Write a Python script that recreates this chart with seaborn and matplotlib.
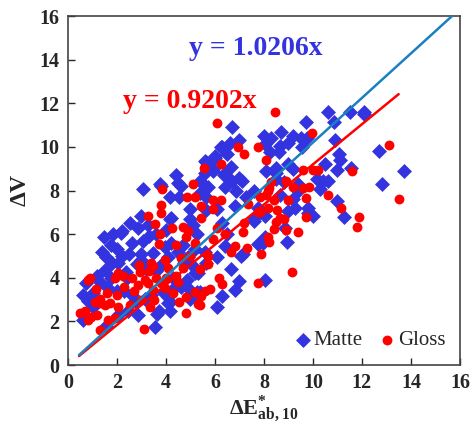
import numpy as np
import pandas as pd
import matplotlib
matplotlib.use("Agg")
import matplotlib.pyplot as plt
import seaborn as sns

# slopes of the two fitted lines (through origin)
matte_slope = 1.0206
gloss_slope = 0.9202

matte_x = [12.7, 13.7, 12.8, 12.1, 12.1, 11.5, 10.85, 10.6, 10.9, 11.05, 11.1, 11.0, 11.55, 11.0, 11.25, 10.6,
           9.7, 8.7, 8.0, 8.3, 9.2, 9.0, 9.5, 9.75, 8.6, 9.55, 9.0, 10.5, 8.1, 8.5, 9.2, 8.8, 10.15, 10.4, 9.4,
           10.3, 9.2, 9.0, 9.8, 9.8, 7.6, 8.85, 8.05,
           8.95, 7.95, 7.05, 6.4, 8.05, 6.65, 7.0, 6.8, 6.3, 6.1, 5.4,
           6.7, 8.05, 8.65, 8.25, 6.25, 6.6, 5.6, 6.0, 6.5, 5.9, 6.65, 6.35, 7.0, 8.5, 5.6, 5.4, 5.7, 6.4, 6.85,
           7.6, 8.5, 9.4, 8.65, 5.65, 6.1, 6.8, 7.25, 7.75, 9.25, 10.0, 8.05,
           3.05, 3.8, 4.4, 4.6, 4.15, 4.55, 3.0, 5.0, 4.2,
           7.0, 5.65, 5.9, 6.4, 7.1, 6.7, 4.5, 3.75, 5.5, 5.4, 2.85, 2.2, 1.45, 1.85, 4.15, 5.0, 5.1, 5.25, 5.65,
           6.3, 6.5, 7.6, 6.3, 6.0,
           1.75, 2.15, 1.55, 2.05, 2.6, 3.05, 2.55, 3.25, 3.0, 3.45, 3.95, 2.8, 2.35, 4.1, 4.9, 5.1, 4.75, 4.3,
           4.9, 5.0, 0.75, 0.6, 1.0, 1.3, 1.75, 1.5, 0.6, 1.55, 2.05, 2.45, 2.75, 3.15, 3.55, 3.7, 4.1, 4.1, 0.8,
           1.0,
           7.15, 7.75, 5.25, 5.65, 6.1, 5.3, 4.85, 4.15, 4.15, 2.85, 3.65,
           2.3, 2.6, 3.4, 3.0, 3.6, 2.2, 1.8, 1.4, 2.0, 2.5, 3.2, 3.8, 4.3, 4.5, 4.2, 3.6, 3.3, 4.0, 1.2, 1.6,
           2.0, 2.4, 3.9, 4.6, 5.2, 5.6, 5.2, 4.7]
matte_y = [9.8, 8.9, 8.3, 11.6, 11.5, 11.6, 11.15, 11.6, 10.3, 9.7, 9.4, 8.95, 9.05, 7.5, 6.8, 8.45,
           11.15, 10.7, 10.5, 10.4, 10.5, 10.2, 10.4, 10.4, 9.75, 10.0, 9.2, 9.2, 8.9, 8.8, 9.0, 8.4, 8.55, 8.45,
           8.0, 8.05, 7.6, 7.05, 7.2, 6.95, 6.6, 6.3, 5.85,
           5.65, 5.6, 5.0, 5.45, 3.9, 4.4, 3.85, 3.45, 3.15, 2.65, 3.35,
           10.9, 10.15, 10.05, 9.75, 10.0, 10.2, 9.35, 9.5, 9.7, 9.0, 9.1, 8.7, 8.6, 9.05, 8.8, 8.45, 8.15, 8.15,
           8.0, 8.0, 8.55, 8.3, 7.8, 7.7, 7.15, 7.3, 7.7, 7.2, 7.2, 6.85, 6.85,
           8.05, 8.2, 8.7, 8.2, 7.7, 7.7, 6.85, 7.15, 6.75,
           10.3, 9.3, 8.9, 8.8, 8.45, 8.45, 8.35, 8.3, 8.3, 7.9, 6.3, 6.15, 5.85, 6.0, 6.7, 6.7, 6.4, 6.0, 7.1,
           6.5, 6.0, 6.75, 10.0, 9.6,
           5.5, 6.05, 4.95, 4.7, 5.6, 5.7, 6.5, 6.4, 5.1, 5.15, 5.4, 4.65, 4.25, 4.95, 4.95, 4.55, 4.7, 3.5,
           3.55, 3.05, 3.75, 3.2, 3.3, 3.8, 4.0, 4.35, 2.05, 1.8, 2.3, 2.5, 2.95, 3.05, 1.75, 2.5, 2.85, 3.1, 2.95,
           2.65,
           5.1, 5.55, 3.35, 4.7, 4.95, 4.2, 3.9, 2.9, 2.5, 2.3, 2.35,
           3.4, 3.2, 3.2, 4.8, 4.3, 5.0, 4.7, 5.2, 5.3, 5.1, 4.4, 4.6, 4.0, 5.2, 5.6, 6.0, 5.9, 6.2, 4.1, 3.6,
           3.4, 4.0, 3.3, 3.6, 4.2, 5.2, 5.3, 5.5]

gloss_x = [13.1, 13.5, 11.6, 10.6, 11.15, 11.9, 11.8,
           8.45, 9.95, 7.75, 8.1, 9.6, 10.0, 10.2, 8.3, 8.9, 8.2, 9.2, 9.85, 8.1, 7.85, 8.4, 9.0, 9.7, 7.75,
           8.15, 8.5, 8.8, 8.4, 8.9, 9.4, 8.15,
           8.2, 7.9, 7.3, 6.8, 6.65, 9.15, 7.75, 6.15, 6.3, 5.8, 5.6, 5.45, 5.4,
           6.1, 6.95, 7.2, 5.55, 6.25, 9.6, 8.15, 5.45, 5.9, 6.25, 5.9, 7.35, 7.85, 8.65, 9.7, 8.55,
           3.85, 5.1, 4.85, 5.2, 3.8, 3.8, 3.25,
           5.45, 3.55, 4.25, 4.7, 6.1, 7.2, 7.15,
           3.7, 4.4, 4.8, 4.9, 3.4, 3.45, 3.95, 4.1, 4.7, 4.4, 2.05, 1.9, 2.25, 2.6, 2.95, 3.15, 2.85, 3.25, 3.6,
           3.45, 3.8, 3.95, 4.3, 4.55, 4.8, 5.2, 0.8, 0.9, 1.15, 1.1, 1.3, 1.5, 1.7, 1.3, 0.5, 0.7, 0.8, 0.95,
           1.2, 1.3, 1.65, 1.9, 2.05, 2.55, 3.1, 3.35,
           3.75, 5.2, 5.9, 6.4, 5.7, 5.7, 5.3, 4.8,
           2.3, 2.7, 3.0, 3.5, 2.0, 1.6, 4.5, 4.0, 3.3, 2.9, 5.0, 5.4, 4.6]
gloss_y = [10.1, 7.6, 8.9, 7.8, 7.2, 6.8, 6.35,
           11.6, 10.65, 10.0, 9.4, 8.95, 8.95, 8.95, 8.4, 8.45, 8.1, 8.15, 8.15, 7.8, 7.7, 7.55, 7.55, 7.65, 7.0,
           7.2, 6.55, 6.7, 6.25, 6.2, 6.1, 5.85,
           5.65, 5.1, 5.35, 5.45, 5.2, 4.25, 3.75, 4.0, 3.7, 3.5, 3.4, 3.15, 2.75,
           11.1, 10.0, 9.7, 9.05, 9.2, 8.1, 8.0, 7.3, 7.55, 7.55, 7.15, 7.4, 7.0, 6.75, 6.8, 7.1,
           8.05, 8.3, 7.7, 7.7, 7.35, 6.95, 6.85,
           6.75, 6.45, 6.3, 6.35, 6.3, 6.5, 6.1,
           5.55, 5.5, 5.85, 6.15, 4.7, 4.55, 4.8, 4.45, 4.45, 4.1, 4.2, 4.0, 4.1, 4.0, 4.25, 3.9, 3.65, 3.75, 4.0,
           3.45, 3.75, 3.55, 3.3, 2.9, 3.1, 3.35, 3.9, 4.0, 3.5, 2.9, 2.85, 2.75, 2.85, 3.05, 2.4, 2.5, 2.05, 2.2,
           2.3, 1.6, 2.05, 2.15, 2.65, 2.75, 1.65, 2.65,
           6.0, 5.6, 5.8, 6.0, 4.65, 5.0, 2.8, 2.4,
           3.6, 3.4, 3.0, 3.0, 3.2, 3.3, 3.8, 4.0, 4.3, 4.6, 5.0, 4.4, 4.9]

ticks = [0, 2, 4, 6, 8, 10, 12, 14, 16]

sns.set_style("ticks")
plt.rcParams["font.family"] = ["Liberation Serif", "DejaVu Serif"]
plt.rcParams["mathtext.fontset"] = "custom"
plt.rcParams["mathtext.rm"] = "Liberation Serif"
plt.rcParams["mathtext.bf"] = "Liberation Serif:bold"

matte_df = pd.DataFrame({"x": matte_x, "y": matte_y})
gloss_df = pd.DataFrame({"x": gloss_x, "y": gloss_y})

fig = plt.figure(figsize=(4.71, 4.24), dpi=100)
ax = fig.add_axes([0.1444, 0.139, 0.832, 0.823])

sns.scatterplot(data=matte_df, x="x", y="y", marker="D", s=58, color="#3333e0",
                linewidth=0, ax=ax, label="Matte", zorder=2)
sns.scatterplot(data=gloss_df, x="x", y="y", marker="o", s=50, color="#ff0000",
                linewidth=0, ax=ax, label="Gloss", zorder=3)

# fitted lines
xr = np.array([0.45, 13.5])
ax.plot(xr, gloss_slope * xr, color="#ff0000", lw=1.8, zorder=4)
xb = np.array([0.45, 16 / matte_slope])
ax.plot(xb, matte_slope * xb, color="#1a80c0", lw=1.8, zorder=5)

ax.text(7.67, 14.5, "y = 1.0206x", color="#3333e0", fontsize=20, fontweight="bold",
        ha="center", va="center")
ax.text(4.98, 12.1, "y = 0.9202x", color="#ff0000", fontsize=20, fontweight="bold",
        ha="center", va="center")

ax.set_xlim(0, 16)
ax.set_ylim(0, 16)
ax.set_xticks(ticks)
ax.set_yticks(ticks)
ax.tick_params(direction="in", length=5, width=1, labelsize=14.5, pad=6)
for lab in ax.get_xticklabels() + ax.get_yticklabels():
    lab.set_fontweight("bold")
for sp in ax.spines.values():
    sp.set_color("#444444")
    sp.set_linewidth(1.2)

ax.set_xlabel(r"$\mathbf{\Delta E^{*}_{ab,10}}$", fontsize=16, labelpad=0)
ax.set_ylabel(r"$\mathbf{\Delta V}$", fontsize=17, labelpad=6)

ax.legend(loc="lower right", frameon=False, ncol=2, fontsize=15, handletextpad=0.1,
          handlelength=0.8, columnspacing=0.8, borderaxespad=0.3, markerscale=1.0)

fig.savefig("out.png", dpi=100)
